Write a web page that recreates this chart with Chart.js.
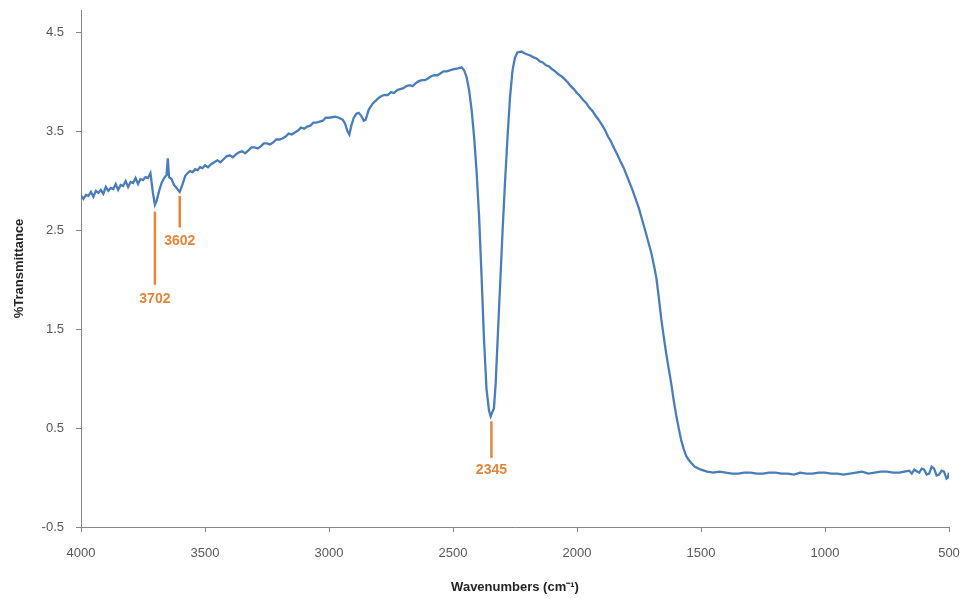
<!DOCTYPE html>
<html>
<head>
<meta charset="utf-8">
<script src="https://cdn.jsdelivr.net/npm/chart.js@4/dist/chart.umd.min.js"></script>
<style>
html,body{margin:0;padding:0;background:#fff;}
#wrap{width:964px;height:599px;position:relative;}
</style>
</head>
<body>
<div id="wrap"><canvas id="c" width="964" height="599"></canvas></div>
<script>
// Wavenumbers (cm-1)
const wavenumbers = [4000,3990,3980,3970,3960,3950,3940,3930,3920,3910,3900,3890,3880,3870,3860,3850,3840,3830,3820,3810,3800,3790,3780,3770,3760,3750,3740,3730,3720,3710,3702,3695,3685,3675,3665,3655,3650,3645,3635,3625,3615,3602,3590,3580,3570,3560,3550,3540,3530,3520,3510,
3500,3488,3475,3463,3450,3438,3425,3413,3400,3388,3375,3363,3350,3338,3325,3313,3300,3288,3275,3263,3250,3238,3225,3213,3200,3188,3175,3163,3150,3138,3125,3113,3100,3088,3075,3063,3050,3038,3025,3013,3000,
2975,2960,2945,2935,2925,2918,2910,2900,2890,2880,2870,2860,2852,2840,2825,
2800,2788,2775,2763,2750,2738,2725,2713,2700,2688,2675,2663,2650,2638,2625,2613,2600,2588,2575,2563,2550,2538,2525,2513,2500,
2480,2465,2455,2445,2435,2425,2415,2405,2395,2385,2375,2365,2355,2348,2342,2335,2328,2320,2310,2300,2290,2280,2270,2260,2250,2240,2225,2210,
2200,2188,2175,2163,2150,2138,2125,2113,2100,2088,2075,2063,2050,2038,2025,2013,2000,1988,1975,1963,1950,1938,1925,1913,1900,1888,1875,1863,1850,1838,1825,1813,1800,1775,1750,1725,1700,1690,1680,1670,1660,1650,1640,1630,1620,1610,1600,1590,1580,1570,1560,1550,1540,1525,1500,1475,1450,1425,1400,1375,1350,1325,1300,1275,1250,1225,1200,1175,1150,1125,1100,1075,1050,1025,1000,975,950,925,900,875,850,825,800,775,750,725,
700,680,660,650,640,620,610,600,590,580,570,560,550,540,530,520,510,505,500];
// %Transmittance
const transmittance = [2.85,2.82,2.86,2.85,2.89,2.84,2.90,2.88,2.91,2.87,2.94,2.90,2.93,2.92,2.97,2.91,2.96,2.95,3.00,2.94,2.99,2.98,3.03,2.97,3.02,3.01,3.04,3.03,3.08,2.88,2.76,2.80,2.90,2.98,3.03,3.06,3.23,3.04,3.02,2.96,2.93,2.89,2.97,3.05,3.08,3.10,3.09,3.12,3.11,3.14,3.13,
3.16,3.14,3.17,3.19,3.21,3.19,3.22,3.25,3.26,3.24,3.27,3.29,3.30,3.28,3.31,3.34,3.34,3.33,3.35,3.38,3.38,3.37,3.39,3.42,3.42,3.43,3.45,3.48,3.47,3.49,3.51,3.54,3.53,3.55,3.56,3.59,3.59,3.60,3.61,3.64,3.64,
3.65,3.64,3.62,3.58,3.50,3.47,3.56,3.64,3.68,3.69,3.66,3.61,3.62,3.72,3.78,
3.84,3.86,3.87,3.87,3.90,3.89,3.92,3.93,3.94,3.96,3.97,3.96,3.99,4.01,4.02,4.02,4.04,4.06,4.07,4.07,4.09,4.11,4.11,4.12,4.13,
4.14,4.15,4.12,4.05,3.92,3.72,3.45,3.10,2.65,2.05,1.40,0.90,0.68,0.62,0.66,0.70,0.95,1.40,1.95,2.50,3.00,3.45,3.85,4.12,4.25,4.30,4.31,4.29,
4.28,4.27,4.25,4.24,4.21,4.20,4.17,4.16,4.13,4.11,4.08,4.06,4.03,4.00,3.96,3.93,3.89,3.86,3.82,3.79,3.74,3.71,3.66,3.62,3.57,3.52,3.45,3.40,3.33,3.27,3.20,3.14,3.06,2.90,2.72,2.50,2.27,2.15,2.02,1.82,1.60,1.42,1.25,1.10,0.95,0.78,0.63,0.50,0.38,0.29,0.22,0.18,0.15,0.11,0.08,0.06,0.05,0.06,0.05,0.04,0.04,0.05,0.05,0.04,0.04,0.05,0.05,0.04,0.04,0.03,0.05,0.04,0.04,0.05,0.05,0.04,0.04,0.03,0.04,0.05,0.06,0.04,0.05,0.06,0.06,0.05,0.05,0.06,
0.07,0.04,0.08,0.05,0.09,0.08,0.03,0.04,0.11,0.09,0.02,0.03,0.07,0.06,-0.01,0.00,0.05,-0.04,-0.02];
const yTickValues = [-0.5,0.5,1.5,2.5,3.5,4.5];
const xTickValues = [4000,3500,3000,2500,2000,1500,1000,500];
// peak annotations
const peakLabels = ['3702','3602','2345'];
const peakWn = [3702,3602,2345];
const peakLineTop = [2.69,2.85,0.57];
const peakLineBottom = [1.95,2.53,0.20];
const peakLabelY = [1.80,2.39,0.08];

const points = wavenumbers.map((w,i)=>({x:w,y:transmittance[i]}));
const ORANGE = '#E5853A';
const FONT = '"Liberation Sans", Arial, sans-serif';

const peakPlugin = {
  id:'peaks',
  afterDatasetsDraw(chart){
    const {ctx, scales:{x,y}} = chart;
    ctx.save();
    ctx.strokeStyle = ORANGE;
    ctx.lineWidth = 2.5;
    ctx.fillStyle = ORANGE;
    ctx.font = 'bold 14px ' + FONT;
    ctx.textAlign = 'center';
    ctx.textBaseline = 'middle';
    peakLabels.forEach((lab,i)=>{
      const px = x.getPixelForValue(peakWn[i]);
      ctx.beginPath();
      ctx.moveTo(px, y.getPixelForValue(peakLineTop[i]));
      ctx.lineTo(px, y.getPixelForValue(peakLineBottom[i]));
      ctx.stroke();
      ctx.fillText(lab, px, y.getPixelForValue(peakLabelY[i]));
    });
    ctx.restore();
  }
};

new Chart(document.getElementById('c'), {
  type:'line',
  data:{datasets:[{
    data:points,
    borderColor:'#4A7EBB',
    borderWidth:2.3,
    pointRadius:0,
    tension:0,
    fill:false
  }]},
  options:{
    responsive:false,
    animation:false,
    events:[],
    layout:{padding:{top:10,right:15,left:0,bottom:0}},
    plugins:{legend:{display:false},tooltip:{enabled:false}},
    scales:{
      x:{
        type:'linear',
        reverse:true,
        min:500,max:4000,
        afterBuildTicks(s){ s.ticks = xTickValues.map(v=>({value:v})); },
        afterFit(s){ s.height = 72; s.paddingLeft = 0; s.paddingRight = 0; },
        grid:{display:true,drawOnChartArea:false,drawTicks:true,tickLength:5,color:'#868686'},
        border:{color:'#868686',width:1},
        ticks:{color:'#595959',font:{size:13,family:FONT},padding:14,maxRotation:0,callback:v=>String(v)},
        title:{display:true,text:'Wavenumbers (cm\u207B\u00B9)',color:'#262626',font:{size:13,weight:'bold',family:FONT},padding:{top:6}}
      },
      y:{
        min:-0.5,max:4.73,
        afterBuildTicks(s){ s.ticks = yTickValues.map(v=>({value:v})); },
        afterFit(s){ s.width = 81; s.paddingTop = 0; s.paddingBottom = 0; },
        grid:{display:true,drawOnChartArea:false,drawTicks:true,tickLength:5,color:'#868686'},
        border:{color:'#868686',width:1},
        ticks:{color:'#595959',font:{size:13,family:FONT},padding:12,callback:v=>String(v)},
        title:{display:true,text:'%Transmittance',color:'#262626',font:{size:13,weight:'bold',family:FONT},padding:{top:12,bottom:0}}
      }
    }
  },
  plugins:[peakPlugin]
});
</script>
</body>
</html>
